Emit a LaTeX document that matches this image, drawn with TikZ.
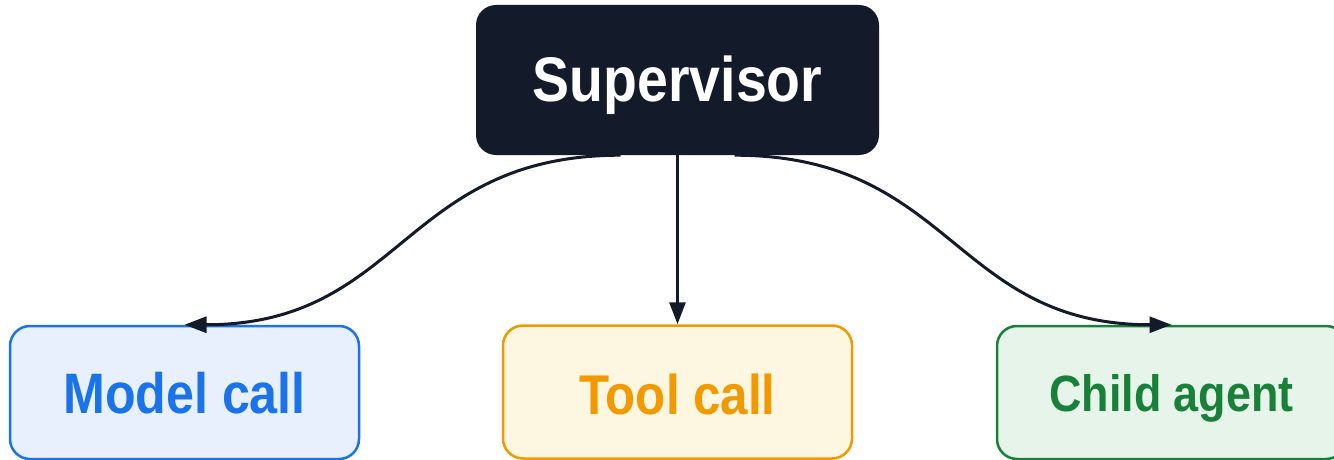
\documentclass[tikz,border=0pt]{standalone}
\usepackage{fontspec}
\newfontfamily\lblfont[FakeStretch=0.88]{Liberation Sans}
\usetikzlibrary{arrows.meta}
\definecolor{navy}{HTML}{131A2A}
\definecolor{blueline}{HTML}{1A73E8}
\definecolor{bluefill}{HTML}{E8F0FD}
\definecolor{amberline}{HTML}{F29900}
\definecolor{amberfill}{HTML}{FDF6E0}
\definecolor{greenline}{HTML}{188038}
\definecolor{greenfill}{HTML}{E6F4EA}
\tikzset{
  box/.style={rounded corners=20pt, inner sep=0pt, text depth=0pt,
    font=\lblfont\bfseries},
  leaf/.style={box, line width=2.5pt, minimum width=349pt, minimum height=133pt},
  conn/.style={draw=navy, line width=3pt, -{Triangle[length=22pt,width=16pt]}},
}
\begin{document}
\begin{tikzpicture}[x=1pt,y=-1pt]
\useasboundingbox (0,0) rectangle (1334,460);
\node[box, fill=navy, text=white, minimum width=403pt, minimum height=150pt,
  text height=44pt, font=\lblfont\bfseries\fontsize{63}{66}\selectfont]
  (sup) at (677.5,80) {Supervisor};
\node[leaf, draw=blueline, fill=bluefill, text=blueline, text height=41pt,
  font=\lblfont\bfseries\fontsize{57}{60}\selectfont]
  (model) at (184.5,392.5) {Model call};
\node[leaf, draw=amberline, fill=amberfill, text=amberline, text height=44pt,
  font=\lblfont\bfseries\fontsize{56}{60}\selectfont]
  (tool) at (677.5,392) {Tool call};
\node[leaf, draw=greenline, fill=greenfill, text=greenline, text height=37pt,
  font=\lblfont\bfseries\fontsize{51}{55}\selectfont]
  (child) at (1171.5,392.5) {Child agent};
\draw[conn] ([xshift=-57pt]sup.south) .. controls +(-218,0) and +(218,0) .. (model.north);
\draw[conn] (sup.south) -- (tool.north);
\draw[conn] ([xshift=57pt]sup.south) .. controls +(218,0) and +(-218,0) .. (child.north);
\end{tikzpicture}
\end{document}
